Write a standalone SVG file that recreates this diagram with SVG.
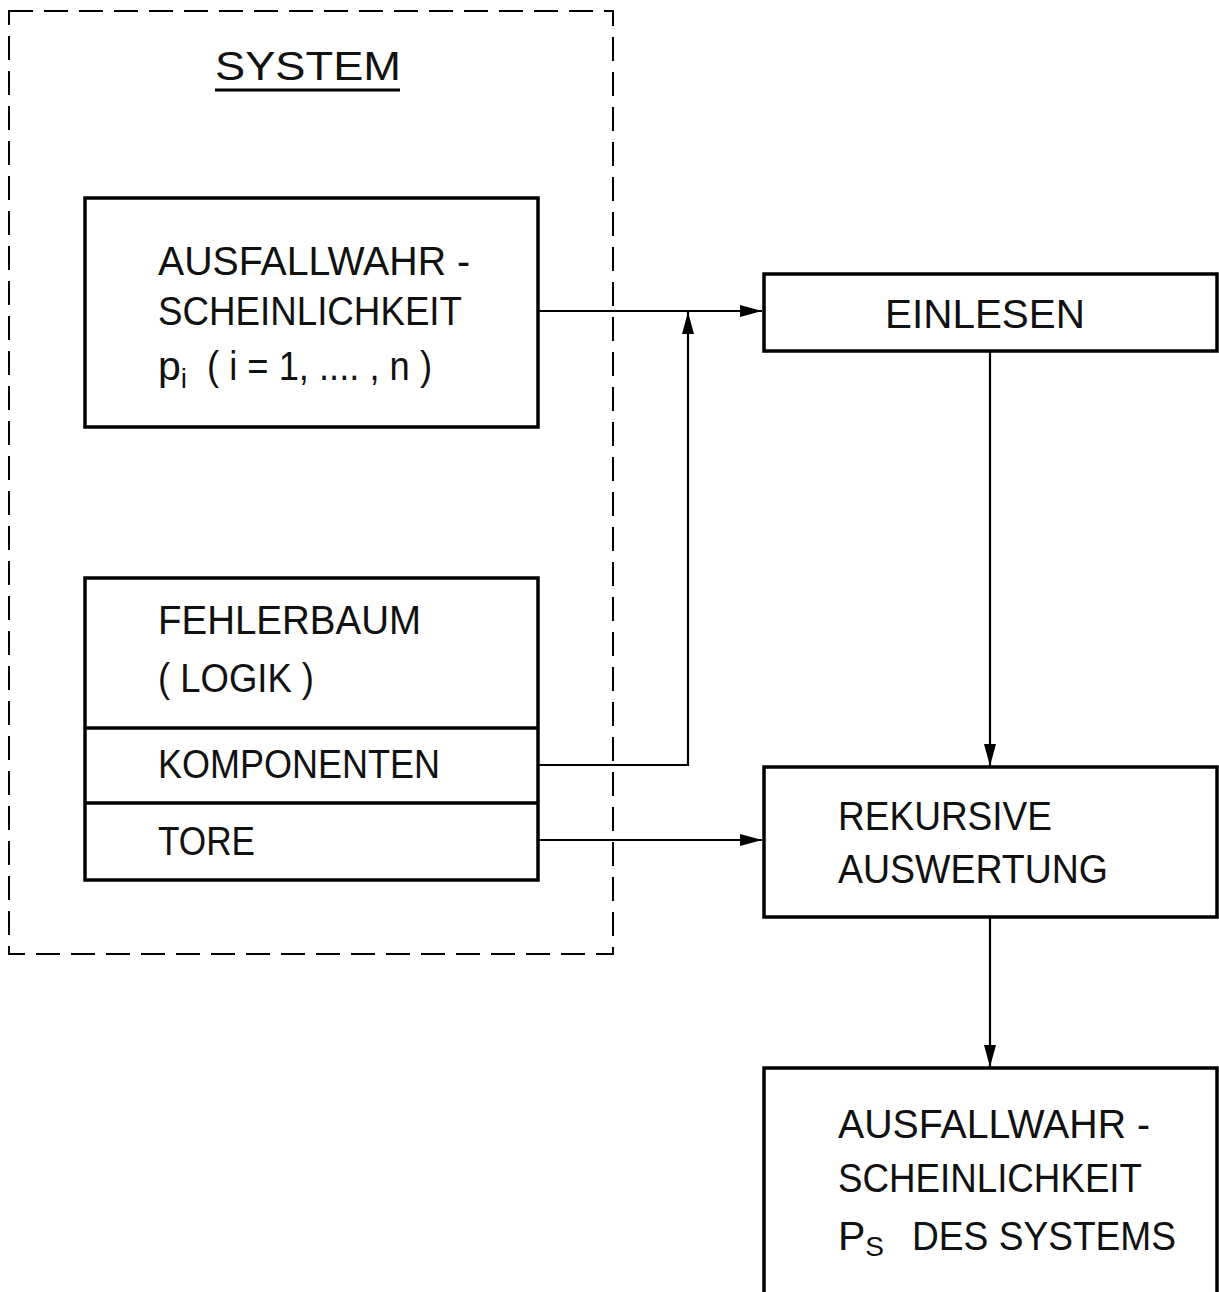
<svg xmlns="http://www.w3.org/2000/svg" width="1219" height="1292" viewBox="0 0 1219 1292">
<style>
.box{fill:none;stroke:#000;stroke-width:3.5}
.ln{fill:none;stroke:#000;stroke-width:2.2}
.t{font-family:"Liberation Sans",Arial,sans-serif;font-size:41px;fill:#111}
</style>
<defs>
<marker id="ah" viewBox="0 0 22 12" refX="22" refY="6" markerWidth="22" markerHeight="12" markerUnits="userSpaceOnUse" orient="auto">
<path d="M0,0 L22,6 L0,12 Z" fill="#000"/>
</marker>
</defs>
<rect width="1219" height="1292" fill="#fff"/>
<g id="system">
<rect x="9" y="11" width="604" height="943" fill="none" stroke="#000" stroke-width="2" stroke-dasharray="24,11"/>
<text class="t" x="215" y="80" font-size="52" textLength="186" lengthAdjust="spacingAndGlyphs">SYSTEM</text>
<line x1="215" y1="90" x2="400" y2="90" stroke="#000" stroke-width="3"/>
</g>
<g id="ausfall">
<rect class="box" x="85" y="198" width="453" height="229"/>
<text class="t" x="158" y="275" textLength="312" lengthAdjust="spacingAndGlyphs">AUSFALLWAHR -</text>
<text class="t" x="158" y="325" textLength="304" lengthAdjust="spacingAndGlyphs">SCHEINLICHKEIT</text>
<text class="t" x="158" y="380">p<tspan font-size="28" dy="8">i</tspan><tspan dy="-8" x="207" textLength="225" lengthAdjust="spacingAndGlyphs">( i = 1, .... , n )</tspan></text>
</g>
<g id="fehlerbaum">
<rect class="box" x="85" y="578" width="453" height="302"/>
<line class="box" x1="85" y1="728" x2="538" y2="728"/>
<line class="box" x1="85" y1="803" x2="538" y2="803"/>
<text class="t" x="158" y="634" textLength="263" lengthAdjust="spacingAndGlyphs">FEHLERBAUM</text>
<text class="t" x="158" y="692" textLength="156" lengthAdjust="spacingAndGlyphs">( LOGIK )</text>
<text class="t" x="158" y="778" textLength="282" lengthAdjust="spacingAndGlyphs">KOMPONENTEN</text>
<text class="t" x="158" y="855" textLength="97" lengthAdjust="spacingAndGlyphs">TORE</text>
</g>
<g id="einlesen">
<rect class="box" x="764" y="274" width="453" height="77"/>
<text class="t" x="885" y="328" textLength="200" lengthAdjust="spacingAndGlyphs">EINLESEN</text>
</g>
<g id="rekursive">
<rect class="box" x="764" y="767" width="453" height="150"/>
<text class="t" x="838" y="830" textLength="214" lengthAdjust="spacingAndGlyphs">REKURSIVE</text>
<text class="t" x="838" y="883" textLength="270" lengthAdjust="spacingAndGlyphs">AUSWERTUNG</text>
</g>
<g id="ergebnis">
<path class="box" d="M764,1292 V1068 H1217 V1292"/>
<text class="t" x="838" y="1138" textLength="312" lengthAdjust="spacingAndGlyphs">AUSFALLWAHR -</text>
<text class="t" x="838" y="1192" textLength="304" lengthAdjust="spacingAndGlyphs">SCHEINLICHKEIT</text>
<text class="t" x="838" y="1250">P<tspan font-size="28" dy="6">S</tspan><tspan dy="-6" x="912" textLength="264" lengthAdjust="spacingAndGlyphs">DES SYSTEMS</tspan></text>
</g>
<g id="connectors">
<line class="ln" x1="538" y1="311" x2="762" y2="311" marker-end="url(#ah)"/>
<polyline class="ln" points="538,765 688,765 688,312" marker-end="url(#ah)"/>
<line class="ln" x1="538" y1="840" x2="762" y2="840" marker-end="url(#ah)"/>
<line class="ln" x1="990" y1="351" x2="990" y2="766" marker-end="url(#ah)"/>
<line class="ln" x1="990" y1="917" x2="990" y2="1067" marker-end="url(#ah)"/>
</g>
</svg>
